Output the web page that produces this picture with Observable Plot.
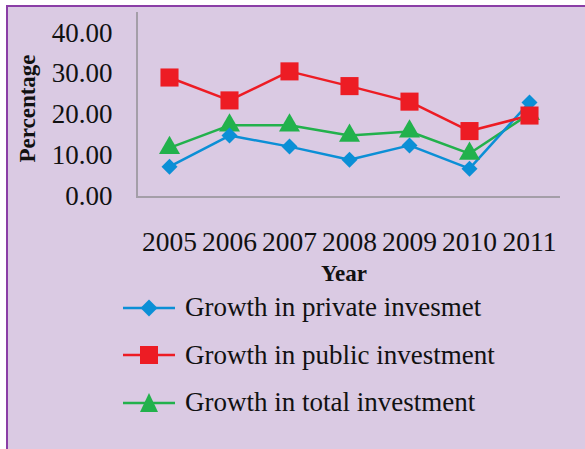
<!DOCTYPE html>
<html>
<head>
<meta charset="utf-8">
<script src="https://cdn.jsdelivr.net/npm/d3@7"></script>
<script src="https://cdn.jsdelivr.net/npm/@observablehq/plot@0.6"></script>
<style>
  html, body { margin: 0; padding: 0; background: #ffffff; }
  body { width: 585px; height: 449px; position: relative; overflow: hidden; font-family: "Liberation Serif", "DejaVu Serif", serif; }
  #bg { position: absolute; left: 6px; top: 5px; width: 600px; height: 460px; background: #dacae3; border-left: 2px solid #8a3ea6; border-top: 2px solid #8a3ea6; }
  #chart { position: absolute; left: 0; top: 0; }
  #legend { position: absolute; left: 123px; top: 284px; }
  .row { display: flex; align-items: center; height: 47.5px; }
  .row svg { width: 52px; height: 26px; margin-right: 10px; overflow: visible; }
  .row span { font-size: 27px; color: #111; line-height: 1; }
</style>
</head>
<body>
<div id="bg"></div>
<div id="chart"></div>
<div id="legend"></div>
<script>
const years = ["2005", "2006", "2007", "2008", "2009", "2010", "2011"];
const privateInv = [7.3, 14.9, 12.2, 9.0, 12.5, 6.8, 23.0];
const publicInv  = [29.1, 23.5, 30.6, 27.0, 23.2, 16.0, 19.8];
const totalInv   = [11.9, 17.4, 17.4, 14.9, 15.9, 10.5, 20.2];
const seriesNames = ["Growth in private invesmet", "Growth in public investment", "Growth in total investment"];
const seriesValues = [privateInv, publicInv, totalInv];
const seriesColors = ["#0b8fd6", "#ed1c24", "#22b14c"];
const seriesSymbols = ["diamond2", "square", "triangle"];
const seriesRadius = [7.2, 10.2, 7.8];
const yTicks = [0, 10, 20, 30, 40];

const data = years.flatMap((yr, i) => seriesValues.map((vals, k) => ({year: yr, value: vals[i], series: k})));
const drawOrder = [2, 0, 1];

const W = 585, H = 290, mL = 137, mR = 25, mT = 12, mB = H - 196;

const axisLines = (index, scales, values, dimensions) => {
  const d = dimensions || {width: W, height: H, marginLeft: mL, marginRight: mR, marginTop: mT, marginBottom: mB};
  const g = document.createElementNS("http://www.w3.org/2000/svg", "path");
  g.setAttribute("d", `M${d.marginLeft},${d.marginTop}V${d.height - d.marginBottom + 1}H${d.width - d.marginRight}`);
  g.setAttribute("fill", "none");
  g.setAttribute("stroke", "#a49ea8");
  g.setAttribute("stroke-width", "2");
  return g;
};

const chart = Plot.plot({
  width: W,
  height: H,
  marginLeft: mL,
  marginRight: mR,
  marginTop: mT,
  marginBottom: mB,
  style: {fontFamily: "'Liberation Serif', 'DejaVu Serif', serif", fontSize: "27px", color: "#111", background: "transparent", overflow: "visible"},
  x: {type: "point", domain: years, padding: 0.5},
  y: {domain: [0, 45]},
  marks: [
    axisLines,
    ...drawOrder.map(k => Plot.lineY(data.filter(d => d.series === k), {x: "year", y: "value", stroke: seriesColors[k], strokeWidth: 2.5})),
    ...drawOrder.map(k => Plot.dot(data.filter(d => d.series === k), {x: "year", y: "value", fill: seriesColors[k], symbol: seriesSymbols[k], r: seriesRadius[k], stroke: "none"})),
    Plot.axisY({ticks: yTicks, tickFormat: d => d.toFixed(2), tickSize: 0, tickPadding: 25, fontSize: 27, label: null}),
    Plot.axisX({tickSize: 0, tickPadding: 35, fontSize: 27.5, label: null}),
    Plot.text(["Percentage"], {frameAnchor: "left", textAnchor: "middle", dx: -110, dy: 4, rotate: -90, fontWeight: "bold", fontSize: 23, fill: "#111"}),
    Plot.text(["Year"], {frameAnchor: "bottom", textAnchor: "middle", dx: -5, dy: 84, fontWeight: "bold", fontSize: 23, fill: "#111"})
  ]
});
document.getElementById("chart").appendChild(chart);

const legend = document.getElementById("legend");
const shapes = [
  c => `<rect x="-6" y="-6" width="12" height="12" transform="translate(26,13) rotate(45)" fill="${c}"/>`,
  c => `<rect x="17" y="4" width="18" height="18" fill="${c}"/>`,
  c => `<path d="M26,3L35,22H17Z" fill="${c}"/>`
];
seriesNames.forEach((name, k) => {
  const row = document.createElement("div");
  row.className = "row";
  row.innerHTML = `<svg viewBox="0 0 52 26"><line x1="0" y1="13" x2="52" y2="13" stroke="${seriesColors[k]}" stroke-width="2.5"/>${shapes[k](seriesColors[k])}</svg><span>${name}</span>`;
  legend.appendChild(row);
});
</script>
</body>
</html>
